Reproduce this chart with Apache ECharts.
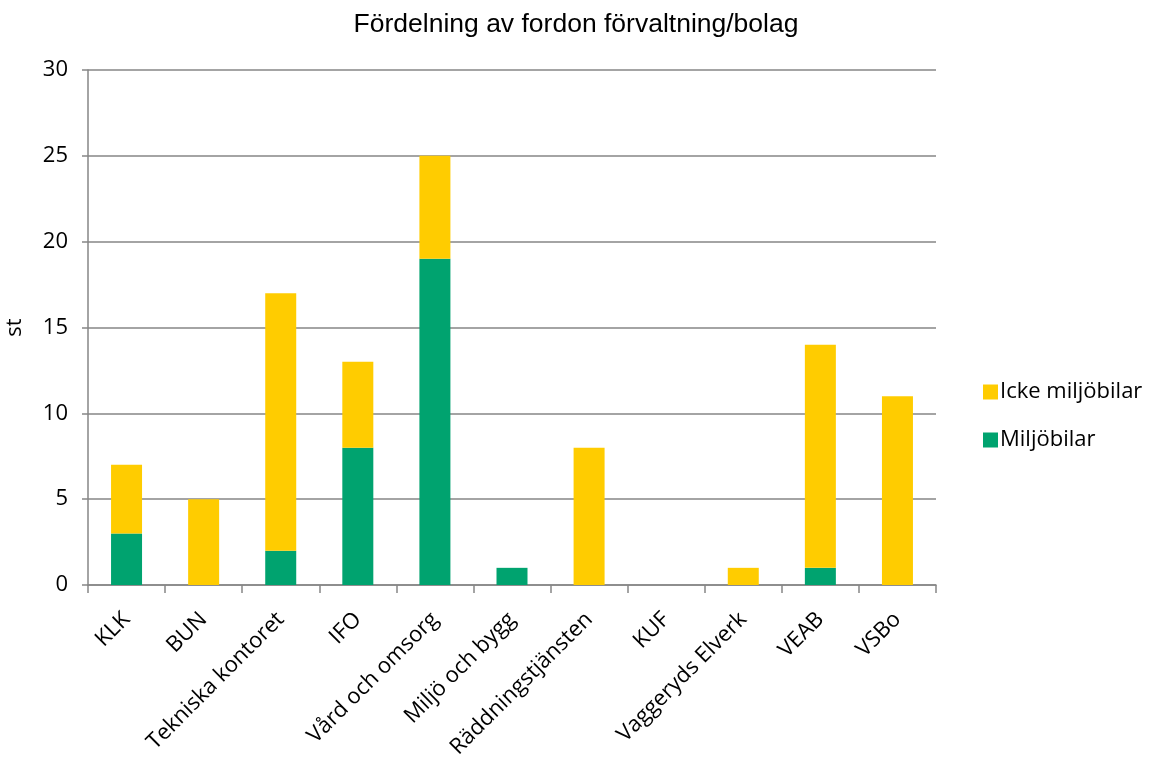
<!DOCTYPE html>
<html><head><meta charset="utf-8">
<script src="https://cdn.jsdelivr.net/npm/echarts@6/dist/echarts.min.js"></script>
<style>html,body{margin:0;padding:0;background:#fff}#c{width:1158px;height:763px}</style>
</head><body><div id="c"></div>
<script>
const categories = ['KLK','BUN','Tekniska kontoret','IFO','Vård och omsorg','Miljö och bygg','Räddningstjänsten','KUF','Vaggeryds Elverk','VEAB','VSBo'];
const miljobilar = [3,0,2,8,19,1,0,0,0,1,0];
const ickeMiljobilar = [4,5,15,5,6,0,8,0,1,13,11];
const yTicks = {min:0, max:30, interval:5};

const chart = echarts.init(document.getElementById('c'));
const lab = '"Open Sans", "Noto Sans", sans-serif';
chart.setOption({
  animation:false,
  title:{text:'Fördelning av fordon förvaltning/bolag', left:571, top:6, textAlign:'center',
    textStyle:{fontFamily:'"Liberation Sans", Arial, sans-serif', fontWeight:'normal', fontSize:26.5, color:'#000'}},
  grid:{left:88, right:222, top:70, bottom:178, containLabel:false, outerBoundsMode:'none'},
  legend:{orient:'vertical', left:978, top:376, itemWidth:15, itemHeight:15, itemGap:26, icon:'rect',
    data:['Icke miljöbilar','Miljöbilar'],
    textStyle:{fontFamily:lab, fontSize:22, color:'#000', padding:[0,0,0,-3]}},
  xAxis:{type:'category', data:categories,
    axisLine:{lineStyle:{color:'#868686', width:1.5}},
    axisTick:{show:true, length:8, lineStyle:{color:'#868686', width:1.5}},
    axisLabel:{rotate:45, interval:0, fontFamily:lab, fontSize:22, color:'#000', margin:31}},
  yAxis:{type:'value', min:yTicks.min, max:yTicks.max, interval:yTicks.interval,
    name:'st', nameLocation:'middle', nameGap:62, nameRotate:90,
    nameTextStyle:{fontFamily:lab, fontSize:22, color:'#000'},
    axisLine:{show:true, lineStyle:{color:'#868686', width:1.5}},
    axisTick:{show:true, length:6, inside:false, lineStyle:{color:'#868686', width:1.5}},
    axisLabel:{fontFamily:lab, fontSize:22, color:'#000', margin:20},
    splitLine:{lineStyle:{color:'#868686', width:1.5}}},
  series:[
    {name:'Miljöbilar', type:'bar', stack:'a', data:miljobilar, barWidth:31, itemStyle:{color:'#00A36F'}},
    {name:'Icke miljöbilar', type:'bar', stack:'a', data:ickeMiljobilar, barWidth:31, itemStyle:{color:'#FFCC00'}}
  ]
});
</script></body></html>
